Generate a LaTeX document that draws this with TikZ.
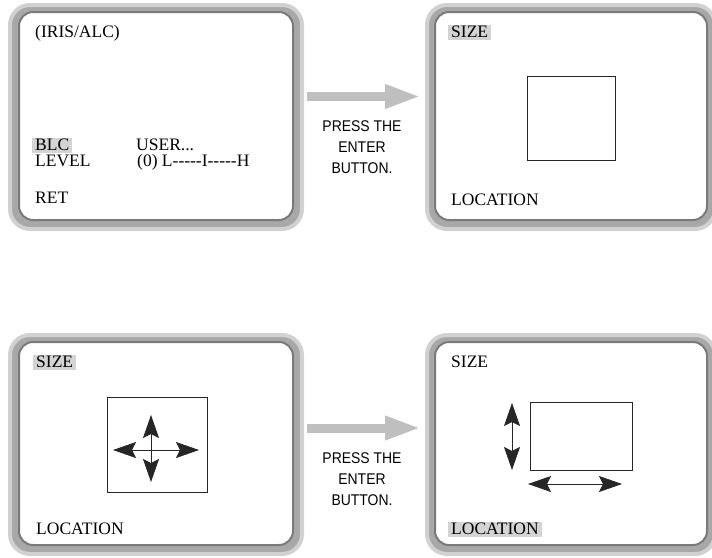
\documentclass[tikz,border=0pt]{standalone}
\usepackage{fontspec}
\setmainfont{Liberation Serif}[Ligatures=TeXOff]
\newfontfamily\btnfont{Liberation Sans}[FakeStretch=0.9]
\usetikzlibrary{arrows.meta, calc}

\begin{document}
\begin{tikzpicture}[x=1pt, y=-1pt,
    bezel/.style={rectangle, rounded corners=20pt, fill=black!34, draw=black!18, line width=4pt, inner sep=0pt},
    screen/.style={rectangle, rounded corners=14pt, fill=white, draw=black!52, line width=2pt, inner sep=0pt},
    osd/.style={anchor=base west, inner xsep=3pt, inner ysep=0.5pt, text height=12pt, text depth=2pt, font=\fontsize{17.5}{20}\selectfont},
    sel/.style={osd, fill=black!17},
    press/.style={align=center, anchor=north, inner sep=0pt, font=\btnfont\fontsize{15.5}{21}\selectfont},
    flow/.style={line width=9pt, draw=black!25, -{Triangle[length=36pt, width=22pt]}},
    area/.style={draw=black!85, line width=0.9pt, inner sep=0pt},
    move/.style={draw=black!85, line width=0.8pt, {Stealth[length=23pt, width=16pt, inset=4pt]}-{Stealth[length=23pt, width=16pt, inset=4pt]}}
]
\useasboundingbox (0,0) rectangle (712,557);

% Monitor frames
\node[bezel, minimum width=292pt, minimum height=224pt] (s1) at (156,117) {};
\node[screen, minimum width=274pt, minimum height=208pt] (s1in) at (156,116) {};
\node[bezel, minimum width=288pt, minimum height=224pt] (s2) at (571,117) {};
\node[screen, minimum width=272pt, minimum height=208pt] (s2in) at (571,116) {};
\node[bezel, minimum width=292pt, minimum height=219pt] (s3) at (156,444.5) {};
\node[screen, minimum width=274pt, minimum height=203pt] (s3in) at (156,443.5) {};
\node[bezel, minimum width=288pt, minimum height=219pt] (s4) at (571,444.5) {};
\node[screen, minimum width=272pt, minimum height=203pt] (s4in) at (571,443.5) {};

% Screen 1: BLC menu
\node[osd] (iris) at (32,37) {(IRIS/ALC)};
\node[sel] (blc) at (32,150) {BLC};
\node[osd] (user) at (133,150) {USER...};
\node[osd] (level) at (32,166) {LEVEL};
\node[osd] (bar) at (134,166) {(0) L-----I-----H};
\node[osd] (ret) at (32,203) {RET};

% Screen 2: size
\node[sel] (size2) at (448,37) {SIZE};
\node[area, minimum width=88pt, minimum height=84pt] (sq2) at (571,118) {};
\node[osd] (loc2) at (448,205) {LOCATION};

% Screen 3: size adjust
\node[sel] (size3) at (33,367) {SIZE};
\node[area, minimum width=100pt, minimum height=95pt] (sq3) at (157,444.5) {};
\node[osd] (loc3) at (33,534) {LOCATION};
\draw[move] (113,450) -- (199,450);
\draw[move] (151,415) -- (151,482);

% Screen 4: location
\node[osd] (size4) at (448,367) {SIZE};
\node[area, minimum width=102pt, minimum height=68pt] (sq4) at (581,436) {};
\node[sel] (loc4) at (448,534) {LOCATION};
\draw[move] (512,403) -- (512,470);
\draw[move] (528,484) -- (622,484);

% Enter arrows
\draw[flow] ($(s1.east)+(3,-20.5)$) -- ($(s2.west)+(-4,-20.5)$);
\node[press] (enter1) at (362,120) {PRESS THE\\ENTER\\BUTTON.};
\draw[flow] ($(s3.east)+(3,-16.5)$) -- ($(s4.west)+(-4,-16.5)$);
\node[press] (enter2) at (362,452) {PRESS THE\\ENTER\\BUTTON.};

\end{tikzpicture}
\end{document}
